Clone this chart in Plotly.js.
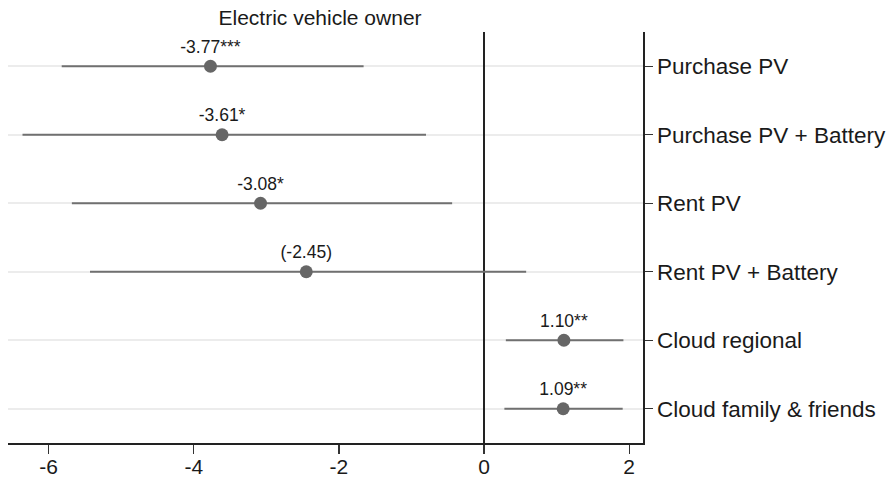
<!DOCTYPE html>
<html>
<head>
<meta charset="utf-8">
<script src="https://cdn.plot.ly/plotly-3.0.1.min.js"></script>
<style>html,body{margin:0;padding:0;background:#fff;}#chart{width:889px;height:480px;}</style>
</head>
<body>
<div id="chart"></div>
<script>
const categories = ["Purchase PV", "Purchase PV + Battery", "Rent PV", "Rent PV + Battery", "Cloud regional", "Cloud family & friends"];
const estimates = [-3.77, -3.61, -3.08, -2.45, 1.10, 1.09];
const ciLow = [-5.82, -6.36, -5.68, -5.43, 0.30, 0.28];
const ciHigh = [-1.66, -0.80, -0.44, 0.58, 1.92, 1.91];
const labels = ["-3.77***", "-3.61*", "-3.08*", "(-2.45)", "1.10**", "1.09**"];
const xTicks = [-6, -4, -2, 0, 2];

const trace = {
  type: 'scatter',
  mode: 'markers+text',
  x: estimates,
  y: categories,
  text: labels,
  textposition: 'top center',
  textfont: {family: 'Liberation Sans, Arial, sans-serif', size: 17.5, color: '#1a1a1a'},
  marker: {size: 13, color: '#666666'},
  error_x: {
    type: 'data', symmetric: false,
    array: estimates.map((v, i) => ciHigh[i] - v),
    arrayminus: estimates.map((v, i) => v - ciLow[i]),
    width: 0, thickness: 2, color: '#707070'
  },
  cliponaxis: false,
  hoverinfo: 'skip'
};

const layout = {
  width: 889, height: 480,
  margin: {l: 8, r: 246, t: 32, b: 37},
  paper_bgcolor: '#ffffff', plot_bgcolor: '#ffffff',
  showlegend: false,
  font: {family: 'Liberation Sans, Arial, sans-serif', color: '#1a1a1a'},
  title: {text: 'Electric vehicle owner', font: {size: 21, color: '#1a1a1a'}, x: 0.36, xanchor: 'center', y: 0.963, yanchor: 'middle'},
  xaxis: {
    range: [-6.56, 2.19],
    tickvals: xTicks, ticktext: xTicks.map(String),
    ticks: 'outside', ticklen: 9, tickwidth: 1.2, tickcolor: '#333',
    tickfont: {size: 21},
    ticklabelstandoff: -5,
    showgrid: false,
    zeroline: true, zerolinecolor: '#222', zerolinewidth: 1.5,
    showline: true, linecolor: '#222', linewidth: 1.5
  },
  yaxis: {
    type: 'category',
    categoryorder: 'array', categoryarray: categories,
    range: [5.5, -0.5],
    side: 'right',
    ticks: 'outside', ticklen: 8, tickwidth: 1.2, tickcolor: '#333',
    tickfont: {size: 22.5},
    showgrid: true, gridcolor: '#ececec', gridwidth: 2,
    zeroline: false,
    showline: true, linecolor: '#222', linewidth: 1.5
  }
};

Plotly.newPlot('chart', [trace], layout, {staticPlot: true, displayModeBar: false});
</script>
</body>
</html>
